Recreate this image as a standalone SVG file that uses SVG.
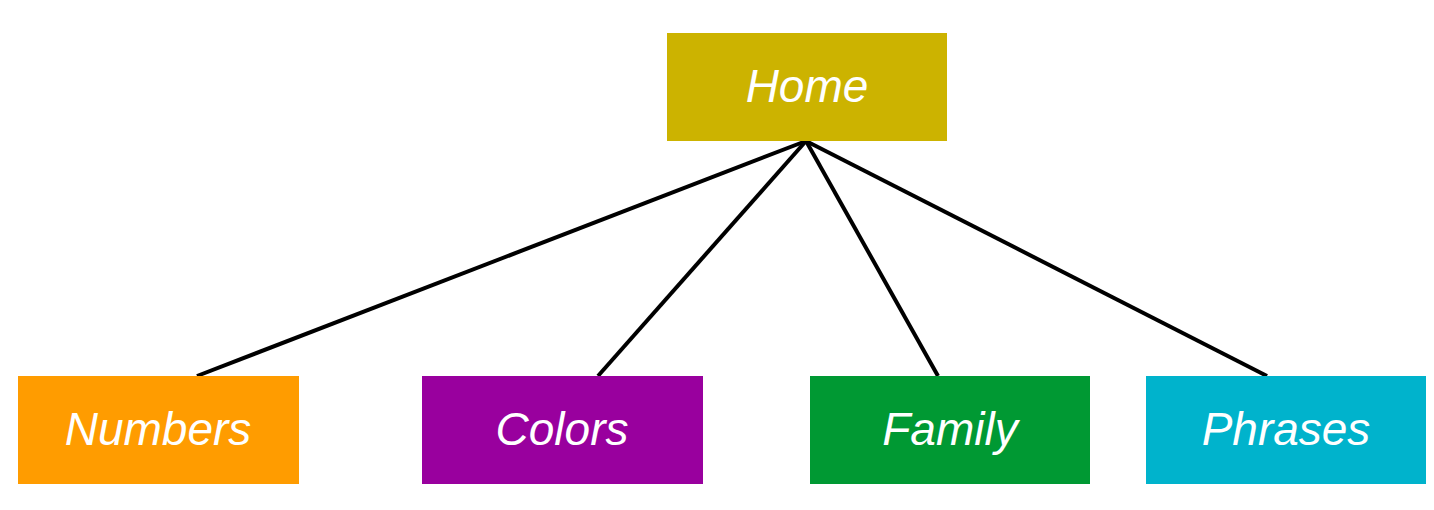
<svg xmlns="http://www.w3.org/2000/svg" width="1434" height="510" viewBox="0 0 1434 510">
<style>
.lbl{font-family:"Liberation Sans",Arial,sans-serif;font-style:italic;font-size:46px;fill:#ffffff;text-anchor:middle}
.edge{stroke:#000;stroke-width:4;fill:none}
</style>
<rect width="1434" height="510" fill="#fff"/>
<g id="connectors">
<line class="edge" x1="806" y1="141" x2="197" y2="376"/>
<line class="edge" x1="806" y1="141" x2="598" y2="376"/>
<line class="edge" x1="806" y1="141" x2="938" y2="376"/>
<line class="edge" x1="806" y1="141" x2="1267" y2="376"/>
</g>
<g id="home">
<rect x="667" y="33" width="280" height="108" fill="#ccb300"/>
<text class="lbl" x="807" y="102">Home</text>
</g>
<g id="numbers">
<rect x="18" y="376" width="281" height="108" fill="#ff9c00"/>
<text class="lbl" x="158" y="445">Numbers</text>
</g>
<g id="colors">
<rect x="422" y="376" width="281" height="108" fill="#99009e"/>
<text class="lbl" x="562" y="445">Colors</text>
</g>
<g id="family">
<rect x="810" y="376" width="280" height="108" fill="#009933"/>
<text class="lbl" x="950" y="445">Family</text>
</g>
<g id="phrases">
<rect x="1146" y="376" width="280" height="108" fill="#00b3cc"/>
<text class="lbl" x="1286" y="445">Phrases</text>
</g>
</svg>
